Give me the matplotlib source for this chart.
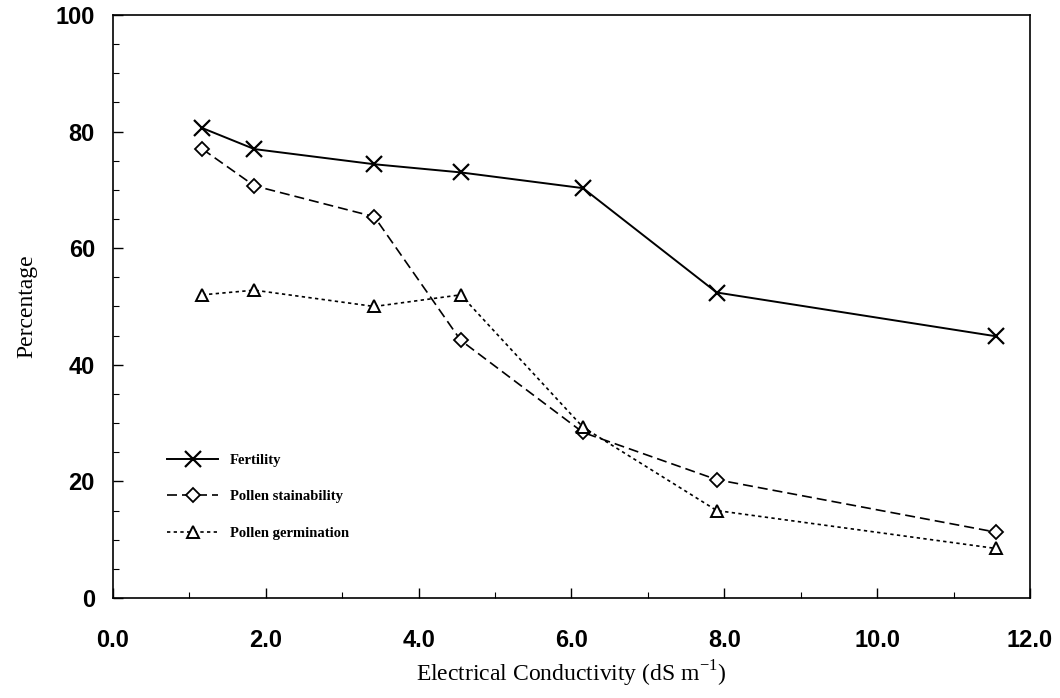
import numpy as np
import matplotlib
matplotlib.use("Agg")
import matplotlib.pyplot as plt
from matplotlib.ticker import MultipleLocator

# data
ec = [1.17, 1.85, 3.42, 4.55, 6.15, 7.9, 11.55]
fertility = [80.6, 77.0, 74.4, 73.0, 70.3, 52.4, 44.9]
stainability = [77.0, 70.7, 65.4, 44.2, 28.4, 20.3, 11.3]
germination = [52.0, 52.8, 50.0, 52.0, 29.3, 15.0, 8.5]
labels = ["Fertility", "Pollen stainability", "Pollen germination"]

fig = plt.figure(figsize=(10.6, 6.98), dpi=100)
ax = fig.add_axes([0.1066, 0.1433, 0.8651, 0.8352])

ax.plot(ec, fertility, color="black", lw=1.4, ls="-", marker="x",
        ms=11, mew=1.6, label=labels[0])
ax.plot(ec, stainability, color="black", lw=1.2, ls=(0, (6, 3)), marker="D",
        ms=7, mew=1.3, mfc="white", label=labels[1])
ax.plot(ec, germination, color="black", lw=1.2, ls=(0, (2, 2)), marker="^",
        ms=9, mew=1.4, mfc="white", label=labels[2])

ax.set_xlim(0, 12)
ax.set_ylim(0, 100)
ax.xaxis.set_major_locator(MultipleLocator(2))
ax.xaxis.set_minor_locator(MultipleLocator(1))
ax.yaxis.set_major_locator(MultipleLocator(20))
ax.yaxis.set_minor_locator(MultipleLocator(5))
ax.set_xticks(np.arange(0, 13, 2))
ax.set_xticklabels([f"{v:.1f}" for v in np.arange(0, 13, 2)])
ax.tick_params(which="major", direction="in", length=7, width=1)
ax.tick_params(which="minor", direction="in", length=4, width=0.8)
ax.tick_params(axis="x", pad=22)
ax.tick_params(axis="y", pad=13)
for lab in ax.get_xticklabels() + ax.get_yticklabels():
    lab.set_fontfamily("Liberation Sans")
    lab.set_fontweight("bold")
    lab.set_fontsize(17)
for sp in ax.spines.values():
    sp.set_linewidth(1.2)

# x label placed by hand so it stays inside the canvas
fig.text(0.539, 0.035, "Electrical Conductivity (dS m$^{\\mathregular{-1}}$)",
         fontfamily="Liberation Serif", fontsize=17, ha="center", va="center")
ax.set_ylabel("Percentage", fontfamily="Liberation Serif", fontsize=17,
              labelpad=13)

ax.legend(loc="upper left", bbox_to_anchor=(0.045, 0.27), frameon=False,
          handlelength=3.5, labelspacing=1.6, handletextpad=0.8,
          prop={"family": "Liberation Serif", "weight": "bold", "size": 10.5})

fig.savefig("out.png", dpi=100)
